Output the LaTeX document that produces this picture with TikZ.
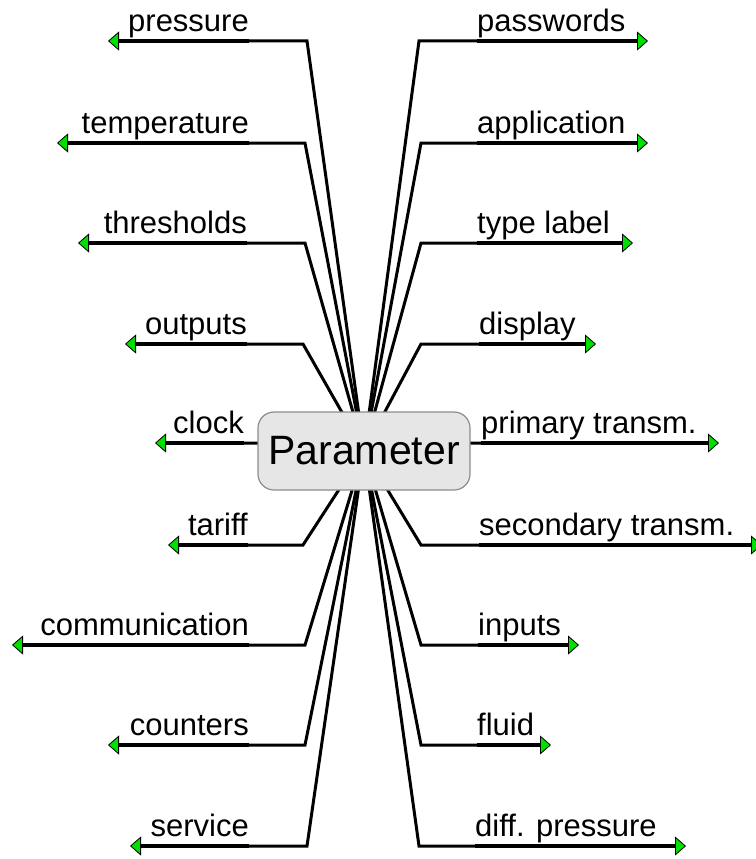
\documentclass[tikz,border=0pt]{standalone}
\usepackage{fontspec}
\setmainfont{Liberation Sans}
\usetikzlibrary{arrows.meta,backgrounds}
\definecolor{tipgreen}{HTML}{00E000}
\definecolor{rootfill}{HTML}{E6E6E6}
\definecolor{rootline}{HTML}{8C8C8C}
\tikzset{
  root/.style={draw=rootline,fill=rootfill,line width=1.2pt,rounded corners=16pt,
               minimum width=212pt,minimum height=78pt,
               font=\fontsize{41}{45}\selectfont},
  leaf/.style={font=\fontsize{31}{35}\selectfont,inner xsep=0pt,inner ysep=0pt,
               text depth=9pt},
  lleaf/.style={leaf,anchor=south east},
  rleaf/.style={leaf,anchor=south west},
  stem/.style={line width=3pt,draw=black},
  leg/.style={line width=4.5pt,draw=black,
              -{Triangle[length=11pt,width=19pt,line width=0.8pt,fill=tipgreen]}}
}

\begin{document}
\begin{tikzpicture}[x=1pt,y=-1pt]
    \useasboundingbox (0,0) rectangle (755,859);

    \node[root] (param) at (364,451) {Parameter};

    % left side
    \node[lleaf] (pressure) at (249,41) {pressure};
    \node[lleaf] (temperature) at (249,143) {temperature};
    \node[lleaf] (thresholds) at (247,243) {thresholds};
    \node[lleaf] (outputs) at (247,344) {outputs};
    \node[lleaf] (clock) at (244,443) {clock};
    \node[lleaf] (tariff) at (248,545) {tariff};
    \node[lleaf] (communication) at (249,645) {communication};
    \node[lleaf] (counters) at (249,745) {counters};
    \node[lleaf] (service) at (249,846) {service};
    \coordinate (epressure) at (108,41);
    \coordinate (etemperature) at (57,143);
    \coordinate (ethresholds) at (78,243);
    \coordinate (eoutputs) at (125,344);
    \coordinate (eclock) at (155,443);
    \coordinate (etariff) at (168,545);
    \coordinate (ecommunication) at (12,645);
    \coordinate (ecounters) at (108,745);
    \coordinate (eservice) at (130,846);

    % right side
    \node[rleaf] (passwords) at (477,41) {passwords};
    \node[rleaf] (application) at (477,143) {application};
    \node[rleaf] (typelabel) at (477,243) {type label};
    \node[rleaf] (display) at (479,344) {display};
    \node[rleaf] (primary) at (481,443) {primary transm.};
    \node[rleaf] (secondary) at (479,545) {secondary transm.};
    \node[rleaf] (inputs) at (478,645) {inputs};
    \node[rleaf] (fluid) at (477,745) {fluid};
    \node[rleaf] (diffpressure) at (475,846) {diff. pressure};
    \coordinate (epasswords) at (648,41);
    \coordinate (eapplication) at (648,143);
    \coordinate (etypelabel) at (633,243);
    \coordinate (edisplay) at (596,344);
    \coordinate (eprimary) at (719,443);
    \coordinate (esecondary) at (762,545);
    \coordinate (einputs) at (579,645);
    \coordinate (efluid) at (551,745);
    \coordinate (ediffpressure) at (686,846);

    \begin{scope}[on background layer]
      \draw[stem] (param.center) -- (307,41) -- (pressure.south east);
      \draw[stem] (param.center) -- (305,143) -- (temperature.south east);
      \draw[stem] (param.center) -- (305,243) -- (thresholds.south east);
      \draw[stem] (param.center) -- (303,344) -- (outputs.south east);
      \draw[stem] (param.center) -- (305,443) -- (clock.south east);
      \draw[stem] (param.center) -- (303,545) -- (tariff.south east);
      \draw[stem] (param.center) -- (305,645) -- (communication.south east);
      \draw[stem] (param.center) -- (305,745) -- (counters.south east);
      \draw[stem] (param.center) -- (307,846) -- (service.south east);
      \draw[stem] (param.center) -- (419,41) -- (passwords.south west);
      \draw[stem] (param.center) -- (421,143) -- (application.south west);
      \draw[stem] (param.center) -- (421,243) -- (typelabel.south west);
      \draw[stem] (param.center) -- (421,344) -- (display.south west);
      \draw[stem] (param.center) -- (421,443) -- (primary.south west);
      \draw[stem] (param.center) -- (421,545) -- (secondary.south west);
      \draw[stem] (param.center) -- (421,645) -- (inputs.south west);
      \draw[stem] (param.center) -- (421,745) -- (fluid.south west);
      \draw[stem] (param.center) -- (419,846) -- (diffpressure.south west);
    \end{scope}

    \draw[leg] (pressure.south east) -- (epressure);
    \draw[leg] (temperature.south east) -- (etemperature);
    \draw[leg] (thresholds.south east) -- (ethresholds);
    \draw[leg] (outputs.south east) -- (eoutputs);
    \draw[leg] (clock.south east) -- (eclock);
    \draw[leg] (tariff.south east) -- (etariff);
    \draw[leg] (communication.south east) -- (ecommunication);
    \draw[leg] (counters.south east) -- (ecounters);
    \draw[leg] (service.south east) -- (eservice);
    \draw[leg] (passwords.south west) -- (epasswords);
    \draw[leg] (application.south west) -- (eapplication);
    \draw[leg] (typelabel.south west) -- (etypelabel);
    \draw[leg] (display.south west) -- (edisplay);
    \draw[leg] (primary.south west) -- (eprimary);
    \draw[leg] (secondary.south west) -- (esecondary);
    \draw[leg] (inputs.south west) -- (einputs);
    \draw[leg] (fluid.south west) -- (efluid);
    \draw[leg] (diffpressure.south west) -- (ediffpressure);
\end{tikzpicture}
\end{document}
